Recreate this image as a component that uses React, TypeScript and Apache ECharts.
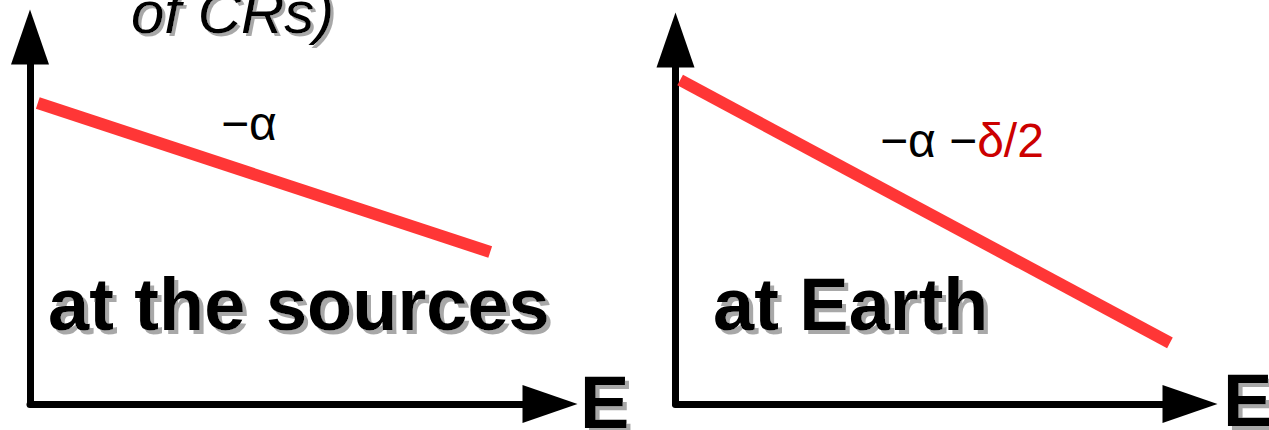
import React, { useEffect, useRef } from "react";
import * as echarts from "echarts";

// Spectrum endpoints in abstract (energy, flux) units for each panel
const sourceSpectrum: [number, number][] = [
  [0.15, 8.2],
  [8.85, 4.14],
];
const earthSpectrum: [number, number][] = [
  [0.09, 8.9],
  [9.61, 1.68],
];

const panelTitles = ["at the sources", "at Earth"];
const energyLabel = "E";
const sourceSlope = "−α";
const earthSlopeBase = "−α −";
const earthSlopeExtra = "δ/2";
const headerTail = "of CRs)";

const FONT = '"Liberation Sans", Arial, Helvetica, sans-serif';
const SHADOW = "#a8a8a8";

function axisPair(index: number) {
  const line = {
    show: true,
    onZero: false,
    symbol: ["none", "triangle"],
    symbolSize: [38, 55],
    lineStyle: { color: "#000", width: 7 },
  };
  const common = {
    type: "value" as const,
    gridIndex: index,
    min: 0,
    max: 10,
    axisLine: line,
    axisTick: { show: false },
    axisLabel: { show: false },
    splitLine: { show: false },
  };
  return { x: { ...common }, y: { ...common } };
}

function shadowText(
  text: string,
  x: number,
  y: number,
  font: string,
  offset: number,
  lineHeight?: number
) {
  return {
    type: "text",
    x,
    y,
    silent: true,
    z: 10,
    style: {
      text,
      font,
      fill: "#000",
      verticalAlign: "middle",
      align: "left",
      lineHeight,
      textShadowColor: SHADOW,
      textShadowOffsetX: offset,
      textShadowOffsetY: offset,
      textShadowBlur: 0.6,
    },
  };
}

export default function App() {
  const ref = useRef<HTMLDivElement>(null);

  useEffect(() => {
    document.body.style.margin = "0";
    if (!ref.current) return;
    const chart = echarts.init(ref.current, undefined, { renderer: "svg" });

    const a0 = axisPair(0);
    const a1 = axisPair(1);

    const option = {
      animation: false,
      backgroundColor: "#fff",
      grid: [
        { left: 30, top: 37, width: 520, height: 367 },
        { left: 675.5, top: 40, width: 514.5, height: 364 },
      ],
      xAxis: [a0.x, a1.x],
      yAxis: [a0.y, a1.y],
      series: [
        {
          type: "line",
          xAxisIndex: 0,
          yAxisIndex: 0,
          data: sourceSpectrum,
          symbol: "none",
          silent: true,
          z: 5,
          lineStyle: { color: "#ff3636", width: 12, cap: "butt" },
        },
        {
          type: "line",
          xAxisIndex: 1,
          yAxisIndex: 1,
          data: earthSpectrum,
          symbol: "none",
          silent: true,
          z: 5,
          lineStyle: { color: "#ff3636", width: 12, cap: "butt" },
        },
      ],
      graphic: [
        shadowText(headerTail, 131, 12, `italic 60px ${FONT}`, 3),
        shadowText(panelTitles[0], 48, 304, `bold 74px ${FONT}`, 4),
        shadowText(panelTitles[1], 713, 304, `bold 74px ${FONT}`, 4),
        shadowText(energyLabel, 580, 402, `bold 74px ${FONT}`, 4, 54),
        shadowText(energyLabel, 1223, 400, `bold 74px ${FONT}`, 4, 54),
        {
          type: "text",
          x: 221,
          y: 123.5,
          silent: true,
          z: 10,
          style: {
            text: sourceSlope,
            font: `48px ${FONT}`,
            fill: "#000",
            verticalAlign: "middle",
          },
        },
        {
          type: "text",
          x: 880,
          y: 140.5,
          silent: true,
          z: 10,
          style: {
            text: `{k|${earthSlopeBase}}{r|${earthSlopeExtra}}`,
            font: `48px ${FONT}`,
            verticalAlign: "middle",
            rich: {
              k: { fill: "#000", font: `48px ${FONT}` },
              r: { fill: "#cc0000", font: `48px ${FONT}` },
            },
          },
        },
      ],
    };

    chart.setOption(option as any);
    return () => chart.dispose();
  }, []);

  return (
    <div
      ref={ref}
      style={{
        position: "fixed",
        left: 0,
        top: 0,
        width: 1269,
        height: 430,
        background: "#fff",
      }}
    />
  );
}
